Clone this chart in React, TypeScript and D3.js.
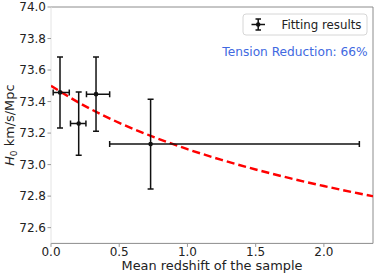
import React from "react";
import * as d3 from "d3";

const W = 376;
const H = 277;
const M = { left: 51, right: 373, top: 7, bottom: 243.4 };

// fitted points: mean redshift, H0 and their errors
const zMean = [0.066, 0.203, 0.33, 0.73];
const zErr: [number, number][] = [
  [0.05, 0.068],
  [0.06, 0.053],
  [0.07, 0.1],
  [0.3, 1.53],
];
const h0 = [73.458, 73.26, 73.447, 73.13];
const h0Err = [0.225, 0.2, 0.235, 0.285];

// red dashed model curve
const curveZ = [0, 0.25, 0.5, 0.75, 1.0, 1.25, 1.5, 1.75, 2.0, 2.25, 2.36];
const curveH0 = [73.5, 73.371, 73.265, 73.176, 73.098, 73.03, 72.969, 72.914, 72.864, 72.818, 72.799];

const xTicks = [0, 0.5, 1.0, 1.5, 2.0];
const yTicks = [72.6, 72.8, 73.0, 73.2, 73.4, 73.6, 73.8, 74.0];

const FONT = "DejaVu Sans, sans-serif";

const App = () => {
  const x = d3.scaleLinear().domain([0, 2.36]).range([M.left, M.right]);
  const y = d3.scaleLinear().domain([72.5, 74.0]).range([M.bottom, M.top]);

  const line = d3
    .line<number>()
    .x((_, i) => x(curveZ[i]))
    .y((d) => y(d))
    .curve(d3.curveMonotoneX);

  const cap = 3;

  return (
    <svg
      width={W}
      height={H}
      style={{ position: "absolute", left: 0, top: 0, background: "#fff" }}
      fontFamily={FONT}
    >
      <defs>
        <clipPath id="plot">
          <rect x={M.left} y={M.top} width={M.right - M.left} height={M.bottom - M.top} />
        </clipPath>
      </defs>

      {/* spines */}
      <line x1={M.left} x2={M.right} y1={M.top} y2={M.top} stroke="#8c8c8c" strokeWidth={1} />
      <line x1={M.right} x2={M.right} y1={M.top} y2={M.bottom} stroke="#8c8c8c" strokeWidth={1} />
      <line x1={M.left} x2={M.right} y1={M.bottom} y2={M.bottom} stroke="#8c8c8c" strokeWidth={1} />
      <line x1={M.left} x2={M.left} y1={M.top} y2={M.bottom} stroke="#e4e4e4" strokeWidth={1} />

      {/* x ticks */}
      {xTicks.map((t) => (
        <g key={t}>
          <line x1={x(t)} x2={x(t)} y1={M.bottom} y2={M.bottom + 3.5} stroke="#999" />
          <text x={x(t)} y={255.5} textAnchor="middle" fontSize={12} fill="#222">
            {t.toFixed(1)}
          </text>
        </g>
      ))}

      {/* y ticks */}
      {yTicks.map((t) => (
        <g key={t}>
          <line x1={M.left - 3.5} x2={M.left} y1={y(t)} y2={y(t)} stroke="#999" />
          <text x={M.left - 5} y={y(t) + 4.3} textAnchor="end" fontSize={12} fill="#222">
            {t.toFixed(1)}
          </text>
        </g>
      ))}

      {/* axis labels */}
      <text x={(M.left + M.right) / 2} y={269.5} textAnchor="middle" fontSize={12.9} fill="#222">
        Mean redshift of the sample
      </text>
      <text
        transform={`translate(13.5, ${(M.top + M.bottom) / 2}) rotate(-90)`}
        textAnchor="middle"
        fontSize={12.9}
        fill="#222"
      >
        <tspan fontStyle="italic">H</tspan>
        <tspan fontSize={9} dy={3}>0</tspan>
        <tspan dy={-3}> km/s/Mpc</tspan>
      </text>

      <g clipPath="url(#plot)">
        {/* model curve */}
        <path
          d={line(curveH0) ?? ""}
          fill="none"
          stroke="#f00"
          strokeWidth={2.4}
          strokeDasharray="8,4"
        />

        {/* error bars */}
        {zMean.map((z, i) => {
          const cx = x(z);
          const cy = y(h0[i]);
          const xl = x(z - zErr[i][0]);
          const xr = x(z + zErr[i][1]);
          const yt = y(h0[i] + h0Err[i]);
          const yb = y(h0[i] - h0Err[i]);
          return (
            <g key={i} stroke="#111" strokeWidth={1.5}>
              <line x1={xl} x2={xr} y1={cy} y2={cy} />
              <line x1={xl} x2={xl} y1={cy - cap} y2={cy + cap} />
              <line x1={xr} x2={xr} y1={cy - cap} y2={cy + cap} />
              <line x1={cx} x2={cx} y1={yt} y2={yb} />
              <line x1={cx - cap} x2={cx + cap} y1={yt} y2={yt} />
              <line x1={cx - cap} x2={cx + cap} y1={yb} y2={yb} />
              <circle cx={cx} cy={cy} r={2.3} fill="#111" stroke="none" />
            </g>
          );
        })}
      </g>

      {/* legend */}
      <rect x={243} y={14} width={124} height={21} rx={3} fill="#fff" stroke="#d6d6d6" strokeWidth={1} />
      <g stroke="#111" strokeWidth={1.5}>
        <line x1={251.5} x2={265} y1={24.5} y2={24.5} />
        <line x1={258.2} x2={258.2} y1={19} y2={30} />
        <line x1={255.5} x2={261} y1={19} y2={19} />
        <line x1={255.5} x2={261} y1={30} y2={30} />
        <circle cx={258.2} cy={24.5} r={2.3} fill="#111" stroke="none" />
      </g>
      <text x={281.5} y={28.5} fontSize={11.8} fill="#222">
        Fitting results
      </text>
      <text x={367.7} y={56} textAnchor="end" fontSize={12.2} fill="#4169e1">
        Tension Reduction: 66%
      </text>
    </svg>
  );
};

export default App;
